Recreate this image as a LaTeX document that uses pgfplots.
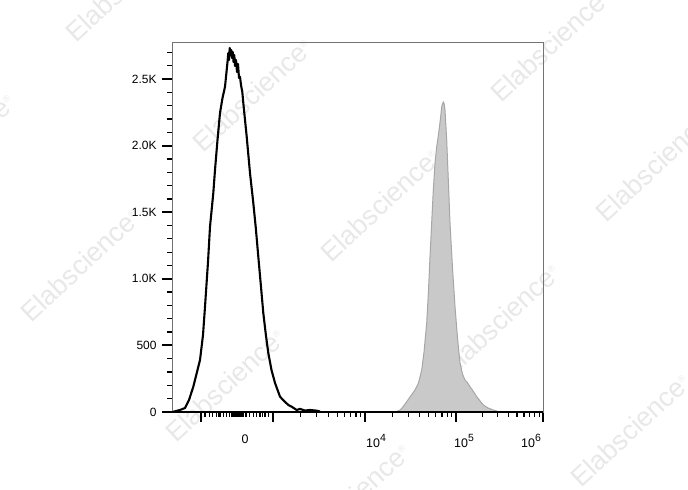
\documentclass[border=0pt]{standalone}
\usepackage{pgfplots}
\pgfplotsset{compat=1.18}
\usepackage{fontspec}
\setmainfont{Liberation Sans}
\newcommand{\expo}[1]{\raisebox{5.5bp}{\fontsize{10.5}{10.5}\selectfont #1}}
\begin{document}
\begin{tikzpicture}[x=1bp,y=1bp]
% watermarks
\begin{scope}[every node/.style={rotate=43, text=black!9, font=\fontsize{27}{29}\selectfont}]
\foreach \px/\py in {252/95, 380/205, 500/320, 630/430, 550/45, 655/165, 80/265, 225/385, 350/500, -45/150, 125/-15}{
  \node at (\px, 490-\py) {Elabscience\raisebox{9bp}{\fontsize{9}{9}\selectfont ®}};
}
\end{scope}
\begin{axis}[
  at={(172bp,78bp)}, anchor=south west,
  scale only axis, width=371bp, height=370bp,
  xmin=172, xmax=543, ymin=0, ymax=2778,
  axis line style={draw=black!55, line width=0.8bp},
  tick align=outside, tick pos=left,
  major tick length=10bp, minor tick length=5bp,
  every major tick/.style={black, line width=1.8bp},
  every minor tick/.style={black, line width=1.3bp},
  xtick={201,272.7,365,456,543}, xticklabels={},
  minor xtick={205,209.3,212.7,216.7,219,220.7,223.3,226.7,229.3,231.5,233,234.5,236,237.5,239,240.5,242,243.5,246,249.3,253.3,256.7,260,262.7,265,268.3,300.5,316.7,328.3,337.2,344.5,350.7,356,360.8,392.4,408.4,419.8,428.6,435.8,441.9,447.2,451.8,482.3,497.7,508.6,517,523.9,529.8,534.8,539.3},
  extra x ticks={245,376,464,531},
  extra x tick labels={0,10\expo{4},10\expo{5},10\expo{6}},
  extra x tick style={tick style={draw=none}, xticklabel style={yshift=-9bp}},
  ytick={0,500,1000,1500,2000,2500},
  yticklabels={0,500,1.0K,1.5K,2.0K,2.5K},
  minor ytick={100,200,300,400,600,700,800,900,1100,1200,1300,1400,1600,1700,1800,1900,2100,2200,2300,2400,2600,2700},
  ticklabel style={font=\fontsize{12}{14}\selectfont, text=black},
  yticklabel style={xshift=-2bp},
  xticklabel style={font=\fontsize{12.5}{14}\selectfont},
  /pgf/number format/assume math mode=true,
  clip=false,
]
\addplot[draw=black!35, fill=black!21, line width=1bp] coordinates {
(396,0)(400,15)(403,38)(406.7,77)(410,113)(415,165)(418.5,218)(421.7,315)(424,450)(426.7,668)(428.5,916)(430,1166)(431.7,1426)(433.3,1667)(435,1869)(436.7,1992)(438,2057)(439.3,2132)(440.5,2207)(441.7,2292)(442.5,2312)(443.3,2327)(444.2,2312)(445,2267)(446.7,2042)(448.3,1742)(450,1419)(452.5,1081)(455,791)(457.5,556)(460,368)(462.5,285)(465,240)(467,225)(470,190)(473,158)(476.7,115)(480,83)(483.3,53)(488,30)(493.3,15)(498,4)(500,0)
} \closedcycle;
\addplot[black, line width=2.1bp, line join=round] coordinates {
(173.3,2)(180,15)(185,30)(189,90)(193.3,190)(197,300)(200,390)(203,578)(205,790)(208,1126)(210,1391)(213.3,1644)(215,1817)(217.5,2042)(220,2245)(222.5,2357)(225,2442)(226.5,2553)(227.5,2628)(228.3,2695)(229,2643)(229.7,2733)(230.5,2680)(231.3,2718)(232,2658)(232.8,2703)(233.5,2628)(234.3,2680)(235,2598)(236,2643)(237,2553)(238,2613)(239,2508)(240,2517)(241,2455)(242.3,2403)(243.3,2320)(246.7,2067)(250,1794)(253.3,1569)(255.8,1381)(258.3,1166)(261,939)(263.3,743)(266,571)(268.3,443)(271.5,315)(275,218)(280,115)(284,83)(288.3,53)(292,38)(296.7,15)(300,23)(305,11)(310,15)(316.7,10)(320,4)
};
\draw[black, line width=1.8bp] (rel axis cs:0,0) -- (rel axis cs:1,0);
\end{axis}
\pgfresetboundingbox
\useasboundingbox (0,0) rectangle (688,490);
\end{tikzpicture}
\end{document}
